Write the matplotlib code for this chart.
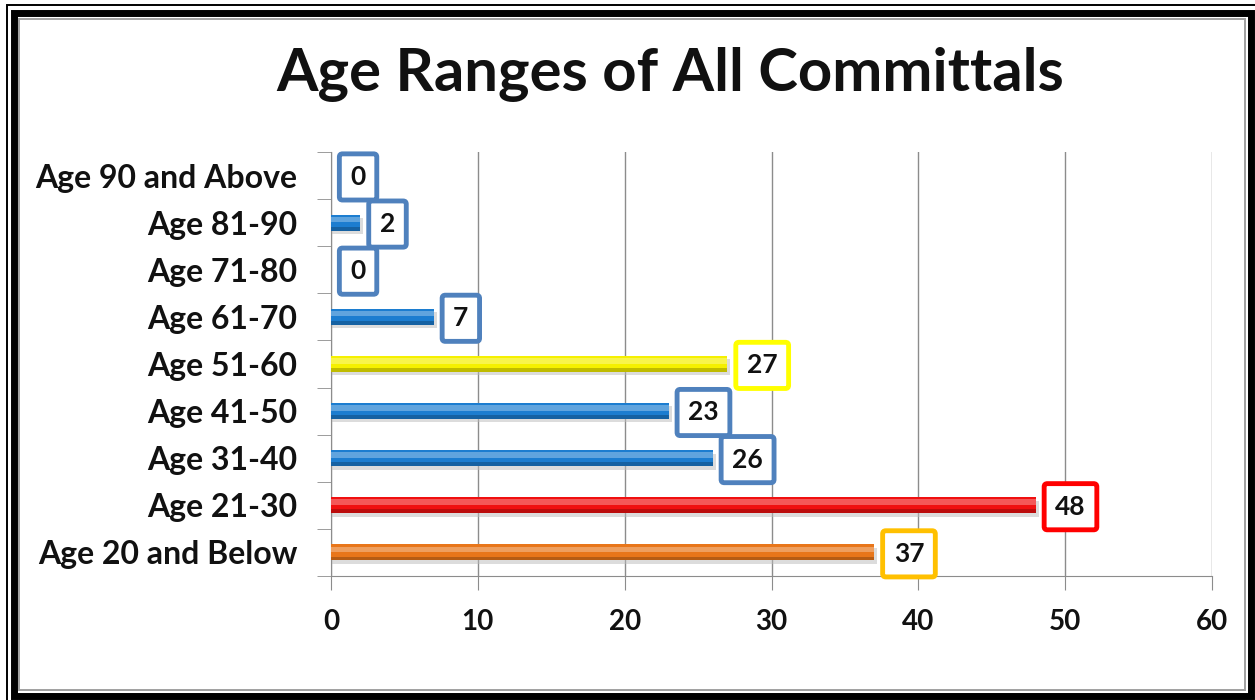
import matplotlib.pyplot as plt
from matplotlib.patches import Rectangle

categories = ['Age 20 and Below', 'Age 21-30', 'Age 31-40', 'Age 41-50',
              'Age 51-60', 'Age 61-70', 'Age 71-80', 'Age 81-90',
              'Age 90 and Above']
counts = [37, 48, 26, 23, 27, 7, 0, 2, 0]
bar_colors = ['#E8761A', '#F01010', '#1C7DD0', '#1C7DD0', '#F5F000',
              '#1C7DD0', '#1C7DD0', '#1C7DD0', '#1C7DD0']
box_colors = ['#FFC000', '#FF0000', '#4F81BD', '#4F81BD', '#FFFF00',
              '#4F81BD', '#4F81BD', '#4F81BD', '#4F81BD']
x_ticks = [0, 10, 20, 30, 40, 50, 60]

plt.rcParams['font.family'] = ['Lato', 'DejaVu Sans']
text_color = '#111111'

fig = plt.figure(figsize=(12.55, 7), dpi=100)

# double frame around the whole chart
fig.patches.append(Rectangle((0.0056, -0.003), 0.996, 0.9957, transform=fig.transFigure,
                             fill=False, edgecolor='black', linewidth=1.4))
fig.patches.append(Rectangle((0.0108, 0.0057), 0.986, 0.9757, transform=fig.transFigure,
                             fill=False, edgecolor='black', linewidth=5))
fig.patches.append(Rectangle((0.0151, 0.0143), 0.9769, 0.9586, transform=fig.transFigure,
                             fill=False, edgecolor='#A0A0A0', linewidth=1.4))

ax = fig.add_axes([331 / 1255, 1 - 576 / 700, (1212 - 331) / 1255, (576 - 152) / 700])

y = list(range(len(categories)))
h = 0.34
for yi, v, c in zip(y, counts, bar_colors):
    if v == 0:
        continue
    # soft shadow, main body, highlight and darker lower edge
    ax.barh(yi - 0.07, v + 0.2, height=h, color='#BBBBBB', alpha=0.5, zorder=2)
    ax.barh(yi, v, height=h, color=c, zorder=3)
    ax.barh(yi + h * 0.2, v, height=h * 0.34, color='white', alpha=0.3, zorder=4,
            linewidth=0)
    ax.barh(yi - h * 0.38, v, height=h * 0.24, color='black', alpha=0.22, zorder=4,
            linewidth=0)

for yi, v, bc in zip(y, counts, box_colors):
    ax.annotate(str(v), xy=(v, yi), xytext=(14, -1), textcoords='offset points',
                ha='left', va='center', fontsize=19, fontweight='bold', zorder=6,
                color=text_color,
                bbox=dict(boxstyle='round,pad=0.42,rounding_size=0.12',
                          facecolor='white', edgecolor=bc, linewidth=3.5))

ax.set_xlim(0, 60)
ax.set_ylim(-0.5, len(categories) - 0.5)
ax.set_xticks(x_ticks)
ax.set_xticklabels([str(t) for t in x_ticks], fontsize=20, fontweight='bold',
                   color=text_color)
ax.set_yticks(y)
ax.set_yticklabels(categories, fontsize=23, fontweight='bold', color=text_color)
ax.set_yticks([i - 0.5 for i in range(len(categories) + 1)], minor=True)

ax.grid(axis='x', color='#8C8C8C', linewidth=1)
ax.set_axisbelow(True)
for side in ['top', 'right']:
    ax.spines[side].set_visible(False)
for side in ['left', 'bottom']:
    ax.spines[side].set_color('#8C8C8C')
ax.tick_params(axis='y', which='major', length=0, pad=24)
ax.tick_params(axis='y', which='minor', length=10, color='#8C8C8C')
ax.tick_params(axis='x', length=10, color='#8C8C8C', pad=14)

fig.text(0.534, 0.893, 'Age Ranges of All Committals', ha='center', va='center',
         fontsize=43, fontweight='bold', color=text_color)

fig.savefig('out.png', dpi=100)
